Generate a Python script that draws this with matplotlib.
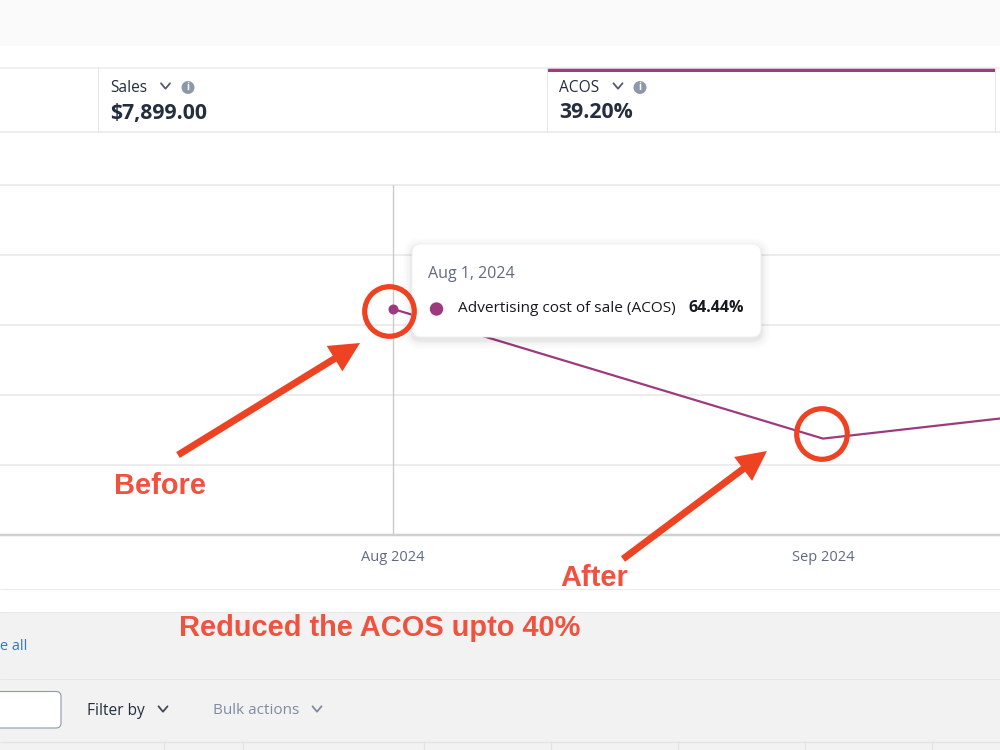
#!/usr/bin/env python3

from datetime import date

import matplotlib
matplotlib.use("Agg")
import matplotlib.dates as mdates
import matplotlib.pyplot as plt
from matplotlib.patches import Circle, FancyBboxPatch, Rectangle

# ACOS per month, in percent
months = [date(2024, 8, 1), date(2024, 9, 1), date(2024, 10, 1)]
acos_values = [64.44, 27.4, 40.9]
month_labels = ["Aug 2024", "Sep 2024"]
y_ticks = [0, 20, 40, 60, 80, 100]

# summary tabs above the chart
tab_names = ["Sales", "ACOS"]
tab_values = ["$7,899.00", "39.20%"]

tooltip_date = "Aug 1, 2024"
tooltip_name = "Advertising cost of sale (ACOS)"
tooltip_value = "64.44%"

PURPLE = "#9c3a7d"
RED = "#ee4323"
TEXT_RED = "#f05240"
DARK = "#232f3f"
SLATE = "#5f6b80"
UI_FONT = "Open Sans"

W, H = 1000, 750
PX = 0.72  # points per pixel at dpi 100

fig = plt.figure(figsize=(10, 7.5), dpi=100, facecolor="white")

# page furniture sits behind the chart, in pixel coordinates
bg = fig.add_axes([0, 0, 1, 1], zorder=0)
bg.set_xlim(0, W)
bg.set_ylim(H, 0)
bg.axis("off")


def hline(ax, y, color, lw=1.0, x0=0, x1=W):
    ax.plot([x0, x1], [y, y], color=color, lw=lw * PX, solid_capstyle="butt")


def vline(ax, x, y0, y1, color, lw=1.0):
    ax.plot([x, x], [y0, y1], color=color, lw=lw * PX, solid_capstyle="butt")


def chevron(ax, x, y, color, size=4.5):
    ax.plot([x - size, x, x + size], [y - size * 0.6, y + size * 0.6, y - size * 0.6],
            color=color, lw=1.8 * PX, solid_capstyle="round")


bg.add_patch(Rectangle((0, 0), W, 46, color="#fafafa", lw=0))
bg.add_patch(Rectangle((0, 612), W, 138, color="#f2f2f2", lw=0))

# tabs
hline(bg, 67.5, "#ececec", 1.5)
hline(bg, 132, "#e8e8e8", 1.5)
for x in [98, 546.5, 995]:
    vline(bg, x, 67, 132, "#e6e6e6")
bg.add_patch(Rectangle((547, 67.5), 448, 4, color="#a43a7e", lw=0))

for x, name, value, chev_x, info_x in zip([110.5, 559], tab_names, tab_values, [165.5, 618], [188, 640]):
    bg.text(x, 88, name, color=DARK, fontsize=15.5 * PX, family=UI_FONT, va="center")
    bg.text(x, 113, value, color=DARK, fontsize=21.3 * PX, family=UI_FONT, weight="bold", va="center")
    chevron(bg, chev_x, 86, "#4f5b6e")
    bg.add_patch(Circle((info_x, 87.5), 6.5, color="#8c99ad", lw=0))
    bg.text(info_x, 87.5, "i", color="white", fontsize=10 * PX, family=UI_FONT, weight="bold",
            ha="center", va="center")

# footer rows
hline(bg, 588.5, "#ececec", 1.2)
hline(bg, 611.5, "#e6e6e6", 1)
hline(bg, 678.5, "#e6e6e6", 1)
hline(bg, 741.5, "#e2e2e2", 1.2)
for x in [163.5, 243, 424, 551, 678, 804.5, 931.5]:
    vline(bg, x, 741, 750, "#e2e2e2", 1.2)

bg.text(0, 646, "e all", color="#2f7bc8", fontsize=14.5 * PX, family=UI_FONT, va="center")
bg.add_patch(FancyBboxPatch((-20, 691.5), 81, 36.5, boxstyle="round,pad=0,rounding_size=5",
                            fc="white", ec="#8d99ad", lw=1.1 * PX))
bg.text(87, 711, "Filter by", color=DARK, fontsize=15.5 * PX, family=UI_FONT, va="center")
chevron(bg, 163, 709, "#3d4859")
bg.text(213, 711, "Bulk actions", color="#7e8ba0", fontsize=15.2 * PX, family=UI_FONT, va="center")
chevron(bg, 317, 709, "#7e8ba0")

# the chart: 430 px per 31 days, August sits at x = 393 px
ax = fig.add_axes([0, (H - 534.5) / H, 1, 350 / H], zorder=1)
ax.patch.set_alpha(0)
px_per_day = 430 / 31
aug = mdates.date2num(months[0])
ax.set_xlim(aug - 393 / px_per_day, aug + (W - 393) / px_per_day)
ax.set_ylim(y_ticks[0], y_ticks[-1])
for side in ["top", "left", "right"]:
    ax.spines[side].set_visible(False)
ax.spines["bottom"].set_color("#d0d0d0")
ax.spines["bottom"].set_linewidth(2.5 * PX)

ax.set_yticks(y_ticks)
ax.tick_params(axis="y", length=0, labelleft=False)
ax.grid(axis="y", color="#e8e8e8", lw=1.6 * PX)
for gridline in ax.get_ygridlines():
    gridline.set_clip_on(False)
ax.set_axisbelow(True)

ax.set_xticks(mdates.date2num(months[:2]))
ax.set_xticklabels(month_labels, color=SLATE, fontsize=14.6 * PX, family=UI_FONT)
ax.tick_params(axis="x", length=0, pad=11)

ax.axvline(aug, color="#c9c9c9", lw=1.3 * PX)
ax.plot(mdates.date2num(months), acos_values, color=PURPLE, lw=2.2 * PX)
ax.plot(aug, acos_values[0], "o", color=PURPLE, ms=10 * PX, mew=0)

# tooltip and hand drawn markup on top of the chart
top = fig.add_axes([0, 0, 1, 1], zorder=2)
top.set_xlim(0, W)
top.set_ylim(H, 0)
top.axis("off")

for grow, alpha in [(9, 0.01), (7, 0.012), (5, 0.016), (3, 0.022), (1.5, 0.03)]:
    top.add_patch(FancyBboxPatch((412 - grow, 244 - grow + 3), 349 + 2 * grow, 93 + 2 * grow,
                                 boxstyle=f"round,pad=0,rounding_size={9 + grow}",
                                 fc="black", ec="none", alpha=alpha))
top.add_patch(FancyBboxPatch((412, 244), 349, 93, boxstyle="round,pad=0,rounding_size=9",
                             fc="white", ec="#f0f0f0", lw=0.7))
top.text(428.5, 273.5, tooltip_date, color=SLATE, fontsize=16 * PX, family=UI_FONT, va="center")
top.add_patch(Circle((436.5, 309), 6.7, color=PURPLE, lw=0))
top.text(457.5, 308.5, tooltip_name, color="#16191f", fontsize=15.4 * PX, family=UI_FONT, va="center")
top.text(744, 308.5, tooltip_value, color="#16191f", fontsize=16 * PX, family=UI_FONT, weight="bold",
         ha="right", va="center")

top.add_patch(Circle((389.5, 311.5), 24.8, fc="none", ec=RED, lw=5.2 * PX))
top.add_patch(Circle((822, 434), 25.3, fc="none", ec=RED, lw=5.2 * PX))

arrow_style = "simple,head_length=2.15,head_width=2.15,tail_width=0.5"
for tail, tip in [((178, 455), (360, 343)), ((623, 559), (767, 451))]:
    top.annotate("", xy=tip, xytext=tail,
                 arrowprops=dict(arrowstyle=arrow_style, mutation_scale=10, color=RED, lw=0,
                                 shrinkA=0, shrinkB=0))

for x, y, label in [(114.5, 485.5, "Before"), (560.5, 577.5, "After"), (179, 627.5, "Reduced the ACOS upto 40%")]:
    top.text(x, y, label, color=TEXT_RED, fontsize=29 * PX, family="Liberation Sans", weight="bold",
             va="center")

fig.savefig("out.png", dpi=100)
